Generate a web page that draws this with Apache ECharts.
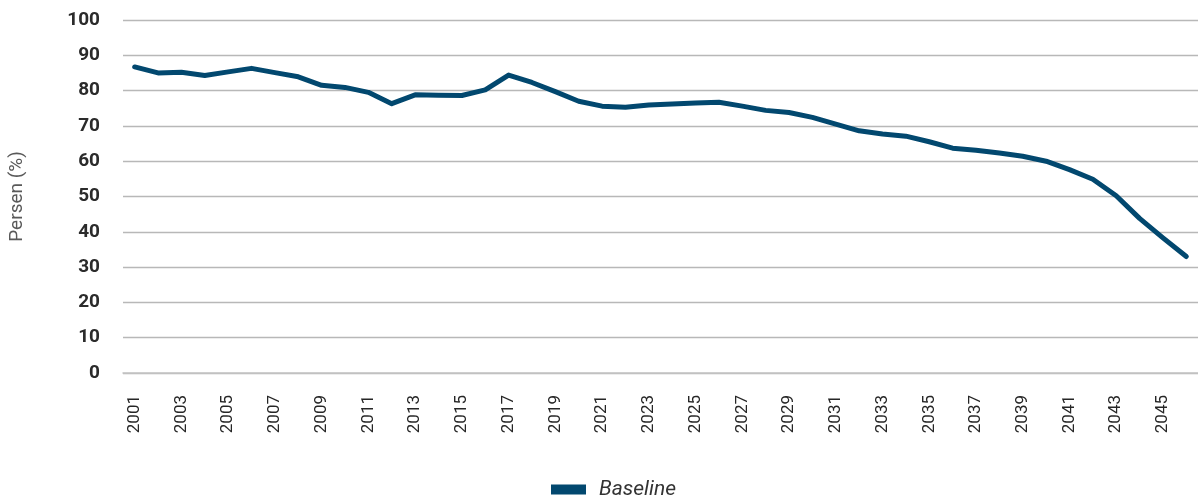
<!DOCTYPE html>
<html>
<head>
<meta charset="utf-8">
<script src="https://cdn.jsdelivr.net/npm/echarts@6/dist/echarts.min.js"></script>
<style>
  html, body { margin: 0; padding: 0; background: #ffffff; }
  #chart { width: 1198px; height: 503px; }
</style>
</head>
<body>
<div id="chart"></div>
<script>
// Years on the horizontal axis
const years = [];
for (let y = 2001; y <= 2046; y++) years.push(String(y));

// Baseline scenario, percent
const baseline = [
  86.7, 85.0, 85.2, 84.3, 85.3, 86.3, 85.1, 83.9, 81.5, 80.9,
  79.5, 76.3, 78.8, 78.7, 78.6, 80.2, 84.4, 82.3, 79.7, 77.0,
  75.6, 75.3, 75.9, 76.2, 76.5, 76.7, 75.6, 74.4, 73.8, 72.4,
  70.5, 68.6, 67.7, 67.1, 65.5, 63.7, 63.1, 62.3, 61.4, 60.0,
  57.6, 54.9, 50.2, 43.8, 38.3, 33.0
];

const seriesName = 'Baseline';
const yAxisTitle = 'Persen (%)';

const chart = echarts.init(document.getElementById('chart'));
chart.setOption({
  animation: false,
  backgroundColor: '#ffffff',
  grid: { left: 120, top: 20, width: 1085, height: 353 },
  legend: {
    data: [seriesName],
    left: 551,
    top: 479,
    padding: 0,
    icon: 'rect',
    itemWidth: 35,
    itemHeight: 10,
    textStyle: {
      fontFamily: 'Roboto',
      fontStyle: 'italic',
      fontSize: 21,
      color: '#333333',
      padding: [0, 0, 0, 8]
    }
  },
  xAxis: {
    type: 'category',
    data: years,
    boundaryGap: true,
    axisTick: { show: false },
    axisLine: { lineStyle: { color: '#c4c4c4', width: 1.5 } },
    axisLabel: {
      interval: 1,
      rotate: 90,
      margin: 22,
      fontFamily: 'Roboto',
      fontSize: 17,
      color: '#262626'
    }
  },
  yAxis: {
    type: 'value',
    min: 0,
    max: 100,
    interval: 10,
    name: yAxisTitle,
    nameLocation: 'middle',
    nameGap: 96,
    nameTextStyle: { fontFamily: 'Roboto', fontSize: 19, color: '#595959' },
    axisLine: { show: false },
    axisTick: { show: false },
    splitLine: { lineStyle: { color: '#b8b8b8', width: 1.3 } },
    axisLabel: {
      margin: 23,
      fontFamily: 'Roboto',
      fontWeight: 'bold',
      fontSize: 19,
      color: '#2b2b2b'
    }
  },
  series: [{
    name: seriesName,
    type: 'line',
    data: baseline,
    symbol: 'none',
    lineStyle: { color: '#02486f', width: 5, cap: 'round', join: 'round' },
    itemStyle: { color: '#02486f' }
  }]
});
</script>
</body>
</html>
